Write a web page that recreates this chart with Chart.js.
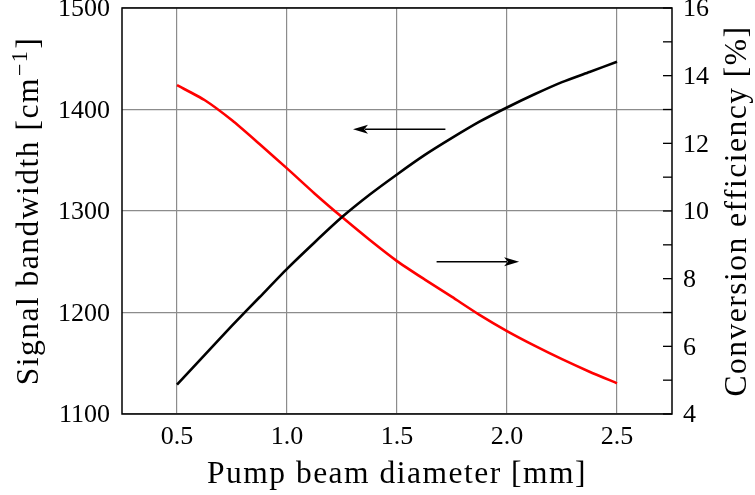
<!DOCTYPE html>
<html><head><meta charset="utf-8">
<script src="https://cdn.jsdelivr.net/npm/chart.js@4/dist/chart.umd.min.js"></script>
<style>html,body{margin:0;padding:0;background:#fff}</style>
</head><body>
<canvas id="c" width="755" height="495"></canvas>
<script>
const diameters = [0.5,0.625,0.75,0.875,1.0,1.125,1.25,1.375,1.5,1.625,1.75,1.875,2.0,2.125,2.25,2.375,2.5];
const bandwidth = [1129,1158,1187,1215,1243,1269,1294,1316,1336,1355,1372,1388,1402,1415,1427,1437,1447];
const efficiency = [13.72,13.28,12.68,11.98,11.26,10.52,9.82,9.15,8.52,7.98,7.46,6.93,6.45,6.02,5.62,5.25,4.91];
const xTicks = [0.5,1.0,1.5,2.0,2.5];
const leftTicks = [1100,1200,1300,1400,1500];
const rightTicks = [4,6,8,10,12,14,16];
const rightMinor = [5,7,9,11,13,15];
const xTitle = 'Pump beam diameter [mm]';
const yTitle = ['Signal bandwidth [cm', '\u22121', ']'];
const y1Title = 'Conversion efficiency [%]';
// arrows in data coordinates
const arrowLeft = {from:1.72, to:1.30, y:1380.5, axis:'y'};
const arrowRight = {from:1.68, to:2.055, y:8.5, axis:'y1'};

const FONT = "'Liberation Serif', serif";
const TICK = 26, TITLE = 31.5, LS = '1.5px';

function noPad(s){ s.paddingTop=0; s.paddingBottom=0; s.paddingLeft=0; s.paddingRight=0; }

const framePlugin = {
  id:'frame',
  afterDatasetsDraw(chart){
    const {ctx, chartArea:a, scales} = chart;
    ctx.save();
    ctx.strokeStyle='#000'; ctx.lineWidth=1.3;
    [...rightTicks, ...rightMinor].forEach(v=>{
      const y = scales.y1.getPixelForValue(v);
      ctx.beginPath(); ctx.moveTo(a.right-9,y); ctx.lineTo(a.right,y); ctx.stroke();
    });
    [arrowLeft, arrowRight].forEach(ar=>{
      const x0 = scales.x.getPixelForValue(ar.from);
      const x1 = scales.x.getPixelForValue(ar.to);
      const y = scales[ar.axis].getPixelForValue(ar.y);
      const dir = Math.sign(x1-x0);
      const hl = 15, hw = 4.5;
      ctx.strokeStyle='#000'; ctx.lineWidth=1.4;
      ctx.beginPath(); ctx.moveTo(x0,y); ctx.lineTo(x1-dir*hl*0.8,y); ctx.stroke();
      ctx.fillStyle='#000';
      ctx.beginPath(); ctx.moveTo(x1,y); ctx.lineTo(x1-dir*hl,y-hw); ctx.lineTo(x1-dir*hl*0.75,y); ctx.lineTo(x1-dir*hl,y+hw); ctx.closePath(); ctx.fill();
    });
    ctx.strokeStyle='#000'; ctx.lineWidth=1.5;
    ctx.strokeRect(a.left, a.top, a.right-a.left, a.bottom-a.top);

    // titles
    ctx.fillStyle='#000';
    ctx.letterSpacing = LS;
    ctx.font = TITLE+'px '+FONT;
    ctx.textBaseline='alphabetic';
    ctx.textAlign='center';
    const cx = (a.left+a.right)/2, cy = (a.top+a.bottom)/2;
    ctx.fillText(xTitle, cx, 483);
    ctx.save();
    ctx.translate(38, cy); ctx.rotate(-Math.PI/2);
    ctx.textAlign='left';
    const supFont = (TITLE*0.7)+'px '+FONT;
    ctx.font = TITLE+'px '+FONT;
    const w0 = ctx.measureText(yTitle[0]).width;
    const w2 = ctx.measureText(yTitle[2]).width;
    ctx.font = supFont;
    const w1 = ctx.measureText(yTitle[1]).width;
    let x = -(w0+w1+w2+2)/2;
    ctx.font = TITLE+'px '+FONT; ctx.fillText(yTitle[0], x, 0); x += w0+1;
    ctx.font = supFont; ctx.fillText(yTitle[1], x, -11); x += w1+1;
    ctx.font = TITLE+'px '+FONT; ctx.fillText(yTitle[2], x, 0);
    ctx.restore();
    ctx.save();
    ctx.translate(746, cy); ctx.rotate(-Math.PI/2);
    ctx.textAlign='center';
    ctx.font = TITLE+'px '+FONT;
    ctx.fillText(y1Title, 0, 0);
    ctx.restore();
    ctx.restore();
  }
};

new Chart(document.getElementById('c'), {
  type:'line',
  data:{
    datasets:[
      {data: diameters.map((d,i)=>({x:d,y:bandwidth[i]})), yAxisID:'y', borderColor:'#000', borderWidth:2.6, pointRadius:0, tension:0.2, fill:false},
      {data: diameters.map((d,i)=>({x:d,y:efficiency[i]})), yAxisID:'y1', borderColor:'#ff0000', borderWidth:2.6, pointRadius:0, tension:0.2, fill:false}
    ]
  },
  options:{
    responsive:false, animation:false, devicePixelRatio:1,
    layout:{autoPadding:false, padding:{top:8,left:0,right:0,bottom:0}},
    plugins:{legend:{display:false}, tooltip:{enabled:false}},
    scales:{
      x:{type:'linear', min:0.25, max:2.75,
        afterBuildTicks(s){ s.ticks = xTicks.map(v=>({value:v})); },
        afterFit(s){ s.height = 81; noPad(s); },
        border:{display:false},
        grid:{color:'#8c8c8c', lineWidth:1.2, drawTicks:false},
        ticks:{padding:8, color:'#000', font:{family:FONT,size:TICK}, callback:v=>v.toFixed(1), maxRotation:0},
        title:{display:false}
      },
      y:{type:'linear', position:'left', min:1100, max:1500,
        afterBuildTicks(s){ s.ticks = leftTicks.map(v=>({value:v})); },
        afterFit(s){ s.width = 122; noPad(s); },
        border:{display:false},
        grid:{color:'#8c8c8c', lineWidth:1.2, drawTicks:false},
        ticks:{padding:12, labelOffset:1.5, color:'#000', font:{family:FONT,size:TICK}, callback:v=>String(v)},
        title:{display:false}
      },
      y1:{type:'linear', position:'right', min:4, max:16,
        afterBuildTicks(s){ s.ticks = rightTicks.map(v=>({value:v})); },
        afterFit(s){ s.width = 83; noPad(s); },
        border:{display:false},
        grid:{drawOnChartArea:false, drawTicks:false},
        ticks:{padding:11, labelOffset:1.5, color:'#000', font:{family:FONT,size:TICK}, callback:v=>String(v)},
        title:{display:false}
      }
    }
  },
  plugins:[framePlugin]
});
</script>
</body></html>
